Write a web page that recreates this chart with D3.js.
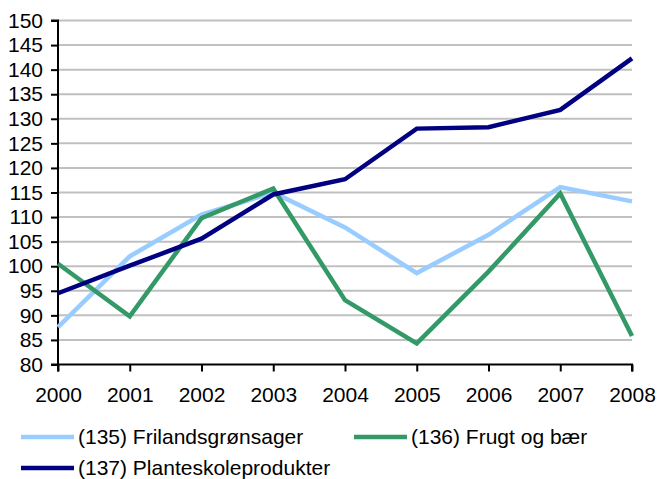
<!DOCTYPE html>
<html lang="da">
<head>
<meta charset="UTF-8">
<title>Prisindeks</title>
<script src="https://cdnjs.cloudflare.com/ajax/libs/d3/7.8.5/d3.min.js"></script>
<style>
  body { margin: 0; background: #fff; font-family: "Liberation Sans", Arial, sans-serif; }
</style>
</head>
<body>
<div id="chart"></div>
<script>
const years = ["2000", "2001", "2002", "2003", "2004", "2005", "2006", "2007", "2008"];
const frilandsgronsager = [87.6, 102, 110.5, 115, 107.9, 98.6, 106.4, 116.1, 113.2];
const frugtOgBaer = [100.5, 89.8, 109.8, 115.8, 93.1, 84.3, 98.9, 114.8, 85.8];
const planteskoleprodukter = [94.5, 100.1, 105.6, 114.6, 117.7, 128, 128.3, 131.8, 142.3];
const seriesNames = ["(135) Frilandsgrønsager", "(136) Frugt og bær", "(137) Planteskoleprodukter"];
const seriesColors = ["#99ccff", "#339966", "#000080"];
const yTicks = d3.range(80, 151, 5);

const width = 657, height = 479;
const x0 = 58, x1 = 632, yTop = 20.5, yBottom = 364.5;
const font = "'Liberation Sans', Arial, sans-serif";

const svg = d3.select("#chart").append("svg")
  .attr("width", width).attr("height", height);

const x = d3.scalePoint().domain(years).range([x0, x1]);
const y = d3.scaleLinear().domain([80, 150]).range([yBottom, yTop]);

// gridlines
svg.append("g").selectAll("line")
  .data(yTicks.filter(d => d > 80))
  .join("line")
  .attr("x1", x0).attr("x2", x1)
  .attr("y1", d => y(d)).attr("y2", d => y(d))
  .attr("stroke", "#c0c0c0").attr("stroke-width", 2);

const yAxis = svg.append("g")
  .attr("transform", `translate(${x0},0)`)
  .call(d3.axisLeft(y).tickValues(yTicks).tickSize(7).tickPadding(8));
const xAxis = svg.append("g")
  .attr("transform", `translate(0,${yBottom})`)
  .call(d3.axisBottom(x).tickSize(7).tickPadding(16));

[yAxis, xAxis].forEach(a => {
  a.select(".domain").attr("stroke", "#000").attr("stroke-width", 2);
  a.selectAll(".tick line").attr("stroke", "#000").attr("stroke-width", 2);
  a.selectAll("text").attr("fill", "#000")
    .style("font-family", font)
    .style("font-size", "21px");
});
xAxis.select(".domain").attr("d", `M${x0},7V0H${x1}V7`);
yAxis.select(".domain").attr("d", `M-7,${yTop}H0V${yBottom}H-7`);

const line = d3.line().x((d, i) => x(years[i])).y(d => y(d));
const allSeries = [frilandsgronsager, frugtOgBaer, planteskoleprodukter];

svg.append("g").selectAll("path")
  .data(allSeries)
  .join("path")
  .attr("d", d => line(d))
  .attr("fill", "none")
  .attr("stroke", (d, i) => seriesColors[i])
  .attr("stroke-width", 4.5)
  .attr("stroke-linejoin", "miter");

// legend
const legendPos = [[21, 437], [354, 437], [21, 468]];
const legend = svg.append("g");
seriesNames.forEach((name, i) => {
  const [lx, ly] = legendPos[i];
  legend.append("line")
    .attr("x1", lx).attr("x2", lx + 53)
    .attr("y1", ly).attr("y2", ly)
    .attr("stroke", seriesColors[i]).attr("stroke-width", 4.5);
  legend.append("text")
    .attr("x", lx + 57).attr("y", ly)
    .attr("dy", "0.35em")
    .style("font-family", font)
    .style("font-size", "21px")
    .text(name);
});
</script>
</body>
</html>
